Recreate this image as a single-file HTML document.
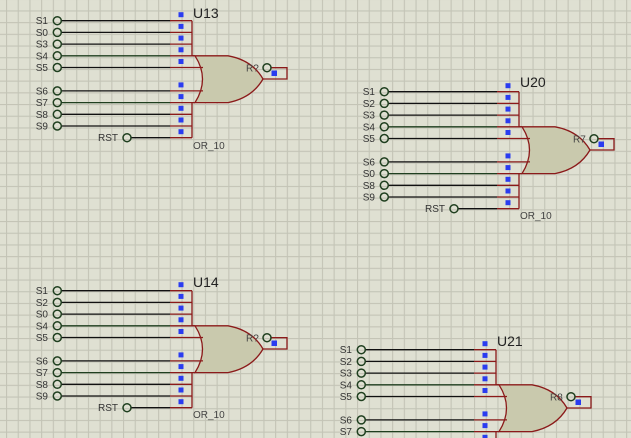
<!DOCTYPE html>
<html><head><meta charset="utf-8"><style>
html,body{margin:0;padding:0;background:#dfe0d2;width:631px;height:438px;overflow:hidden;}
svg{display:block;}
text{font-family:"Liberation Sans",sans-serif;}
.l{font-size:10px;fill:#333;text-anchor:end;}
.t{font-size:14px;fill:#222;}
.o{font-size:10px;fill:#444;}
</style></head><body>
<svg width="631" height="438" viewBox="0 0 631 438" xmlns="http://www.w3.org/2000/svg">
<defs>
<pattern id="g" x="6" y="10.4" width="11.7" height="11.7" patternUnits="userSpaceOnUse">
<path d="M0.5 0V11.7M0 0.5H11.7" stroke="#c3c4b6" stroke-width="1.2" fill="none"/>
</pattern>
<g id="blk">
<g stroke="#111" stroke-width="1.3">
<line x1="61" y1="20.7" x2="170" y2="20.7"/><line x1="61" y1="32.4" x2="170" y2="32.4"/>
<line x1="61" y1="44.1" x2="170" y2="44.1"/><line x1="61" y1="55.8" x2="170" y2="55.8" stroke="#1f3f1f"/>
<line x1="61" y1="67.5" x2="170" y2="67.5"/><line x1="61" y1="90.9" x2="170" y2="90.9"/>
<line x1="61" y1="102.6" x2="170" y2="102.6" stroke="#1f3f1f"/><line x1="61" y1="114.3" x2="170" y2="114.3"/>
<line x1="61" y1="126" x2="170" y2="126"/><line x1="131" y1="137.7" x2="170" y2="137.7"/>
</g>
<path d="M192 55.8 L228 55.8 Q252 60 263 79 Q252 98 228 102.6 L195 102.6 Q210 79 195 55.8 Z" fill="#c9c9ad" stroke="#8b1a1a" stroke-width="1.3"/>
<g stroke="#8b1a1a" stroke-width="1.3" fill="none">
<path d="M170 20.7H192M170 32.4H192M170 44.1H192M170 55.8H195M170 67.5H203M170 90.9H203M170 102.6H195M170 114.3H192M170 126H192M170 137.7H192"/>
<path d="M192 20.7V55.8M192 102.6V137.7"/>
<path d="M263 79H287V67.7H271"/>
</g>
<g fill="none" stroke="#1f3f1f" stroke-width="1.5">
<circle cx="57.3" cy="20.7" r="4"/><circle cx="57.3" cy="32.4" r="4"/><circle cx="57.3" cy="44.1" r="4"/>
<circle cx="57.3" cy="55.8" r="4"/><circle cx="57.3" cy="67.5" r="4"/><circle cx="57.3" cy="90.9" r="4"/>
<circle cx="57.3" cy="102.6" r="4"/><circle cx="57.3" cy="114.3" r="4"/><circle cx="57.3" cy="126" r="4"/>
<circle cx="127" cy="137.7" r="4"/><circle cx="267" cy="67.7" r="4"/>
</g>
<g fill="#2a3cf0">
<rect x="178.5" y="12.2" width="5" height="5"/><rect x="178.5" y="23.9" width="5" height="5"/>
<rect x="178.5" y="35.6" width="5" height="5"/><rect x="178.5" y="47.3" width="5" height="5"/>
<rect x="178.5" y="59" width="5" height="5"/><rect x="178.5" y="82.4" width="5" height="5"/>
<rect x="178.5" y="94.1" width="5" height="5"/><rect x="178.5" y="105.8" width="5" height="5"/>
<rect x="178.5" y="117.5" width="5" height="5"/><rect x="178.5" y="129.2" width="5" height="5"/>
<rect x="271.5" y="70.5" width="5.5" height="5.5"/>
</g>
</g>
</defs>
<rect width="631" height="438" fill="#dfe0d2"/>
<rect width="631" height="438" fill="url(#g)"/>

<g transform="translate(0,0)">
<use href="#blk"/>
<text class="l" x="48" y="24.2">S1</text><text class="l" x="48" y="35.9">S0</text><text class="l" x="48" y="47.6">S3</text>
<text class="l" x="48" y="59.3">S4</text><text class="l" x="48" y="71">S5</text><text class="l" x="48" y="94.4">S6</text>
<text class="l" x="48" y="106.1">S7</text><text class="l" x="48" y="117.8">S8</text><text class="l" x="48" y="129.5">S9</text>
<text class="l" x="118" y="141.2">RST</text>
<text class="t" x="193" y="18">U13</text><text class="o" x="193" y="149">OR_10</text>
<text class="o" x="246" y="71.5">R?</text>
</g>

<g transform="translate(327,71)">
<use href="#blk"/>
<text class="l" x="48" y="24.2">S1</text><text class="l" x="48" y="35.9">S2</text><text class="l" x="48" y="47.6">S3</text>
<text class="l" x="48" y="59.3">S4</text><text class="l" x="48" y="71">S5</text><text class="l" x="48" y="94.4">S6</text>
<text class="l" x="48" y="106.1">S0</text><text class="l" x="48" y="117.8">S8</text><text class="l" x="48" y="129.5">S9</text>
<text class="l" x="118" y="141.2">RST</text>
<text class="t" x="193" y="16">U20</text><text class="o" x="193" y="148">OR_10</text>
<text class="o" x="246" y="71.5">R7</text>
</g>

<g transform="translate(0,270)">
<use href="#blk"/>
<text class="l" x="48" y="24.2">S1</text><text class="l" x="48" y="35.9">S2</text><text class="l" x="48" y="47.6">S0</text>
<text class="l" x="48" y="59.3">S4</text><text class="l" x="48" y="71">S5</text><text class="l" x="48" y="94.4">S6</text>
<text class="l" x="48" y="106.1">S7</text><text class="l" x="48" y="117.8">S8</text><text class="l" x="48" y="129.5">S9</text>
<text class="l" x="118" y="141.2">RST</text>
<text class="t" x="193" y="17">U14</text><text class="o" x="193" y="148">OR_10</text>
<text class="o" x="246" y="71.5">R?</text>
</g>

<g transform="translate(304,329)">
<use href="#blk"/>
<text class="l" x="48" y="24.2">S1</text><text class="l" x="48" y="35.9">S2</text><text class="l" x="48" y="47.6">S3</text>
<text class="l" x="48" y="59.3">S4</text><text class="l" x="48" y="71">S5</text><text class="l" x="48" y="94.4">S6</text>
<text class="l" x="48" y="106.1">S7</text>
<text class="t" x="193" y="17">U21</text>
<text class="o" x="246" y="71.5">R8</text>
</g>
</svg>
</body></html>
